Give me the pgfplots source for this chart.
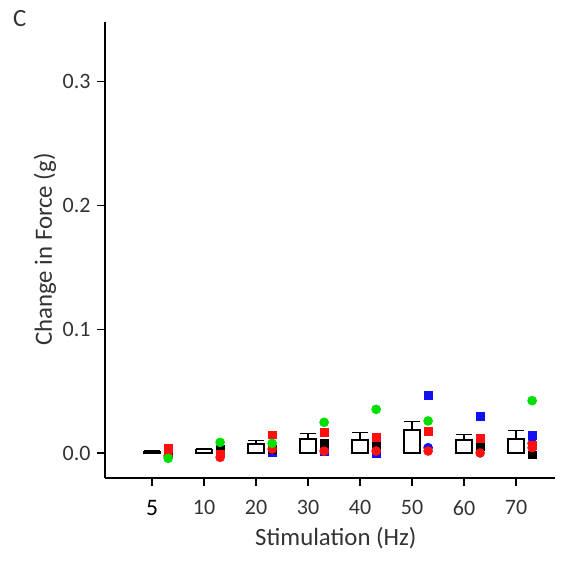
\documentclass[border=0pt]{standalone}
\usepackage{pgfplots}
\pgfplotsset{compat=1.18}
\usepackage{fontspec}
\setmainfont{Carlito}
\usetikzlibrary{calc}
\definecolor{txt}{HTML}{333333}
\definecolor{ptgreen}{HTML}{00E000}
\definecolor{ptred}{HTML}{FF1010}
\definecolor{ptblue}{HTML}{1010F0}

% group means and SEM (bars)
\pgfplotstableread{
x m e
0 0.0012 0.0004
1 0.0030 0.0008
2 0.0073 0.0027
3 0.0113 0.0047
4 0.0105 0.0062
5 0.0186 0.0067
6 0.0105 0.0043
7 0.0113 0.0067
}\bars

\begin{document}
\begin{tikzpicture}
\begin{axis}[
    scale only axis,
    width=225pt, height=228pt,
    xmin=-0.904, xmax=7.75,
    ymin=-0.0202, ymax=0.3484,
    axis lines*=left,
    axis line style={line width=0.75pt, black},
    tick align=outside,
    major tick length=4pt,
    tick style={line width=0.6pt, black},
    xtick={0,...,7},
    xticklabels={{\color{black}\fontsize{11.8}{14}\selectfont 5},10,20,30,40,50,60,70},
    ytick={0,0.1,0.2,0.3},
    yticklabels={0.0,0.1,0.2,0.3},
    tick label style={font=\fontsize{11}{13}\selectfont, text=txt},
    xticklabel style={anchor=north, inner sep=0pt, yshift=-7pt},
    yticklabel style={anchor=east, inner sep=0pt, xshift=-3pt},
    xlabel={Stimulation (Hz)},
    ylabel={Change in Force (g)},
    label style={font=\fontsize{12.4}{14}\selectfont, text=txt},
    xlabel style={at={(axis description cs:0.513,-0.147)}, anchor=base, inner sep=0pt},
    ylabel style={at={(axis description cs:-0.118,0.501)}, anchor=base, rotate=0, inner sep=0pt},
    clip=false,
]
\addplot[ybar, bar width=8pt, draw=black, fill=white, line width=0.65pt,
    error bars/.cd, y dir=plus, y explicit,
    error bar style={line width=0.65pt, black},
    error mark options={rotate=90, mark size=4pt, line width=0.65pt, black}]
    table[x=x, y=m, y error=e] {\bars};

% individual animals
\addplot[only marks, mark=square*, mark size=1.95pt, ptblue] coordinates {
(0.31,0.0010) (1.31,0.0006) (2.31,0.0002) (3.31,0.0010) (4.31,0.0000) (5.31,0.0463) (6.31,0.0297) (7.31,0.0140)};
\addplot[only marks, mark=*, mark size=2.2pt, ptblue] coordinates {
(5.31,0.0043) (7.31,0.0078)};
\addplot[only marks, mark=square*, mark size=1.95pt, black] coordinates {
(0.31,0.0000) (1.31,0.0032) (2.31,0.0032) (3.31,0.0078) (4.31,0.0065) (6.31,0.0051) (7.31,-0.0016)};
\addplot[only marks, mark=*, mark size=2.2pt, ptred] coordinates {
(0.31,-0.0024) (1.31,-0.0035) (2.31,0.0032) (3.31,0.0015) (4.31,0.0016) (5.31,0.0016) (6.31,0.0000) (7.31,0.0043)};
\addplot[only marks, mark=square*, mark size=1.95pt, ptred] coordinates {
(0.31,0.0038) (1.31,-0.0008) (2.31,0.0146) (3.31,0.0167) (4.31,0.0127) (5.31,0.0172) (6.31,0.0119) (7.31,0.0060)};
\addplot[only marks, mark=*, mark size=2.2pt, ptgreen] coordinates {
(0.31,-0.0043) (1.31,0.0086) (2.31,0.0078) (3.31,0.0248) (4.31,0.0353) (5.31,0.0259) (7.31,0.0423)};

\node[anchor=base west, font=\fontsize{12.4}{14}\selectfont, text=txt, inner sep=0pt]
    at (axis description cs:-0.205,0.991) {C};
\end{axis}
\path[use as bounding box] ($(current axis.south west)+(-52.5pt,-43.5pt)$) rectangle ($(current axis.south west)+(230pt,239pt)$);
\end{tikzpicture}
\end{document}
